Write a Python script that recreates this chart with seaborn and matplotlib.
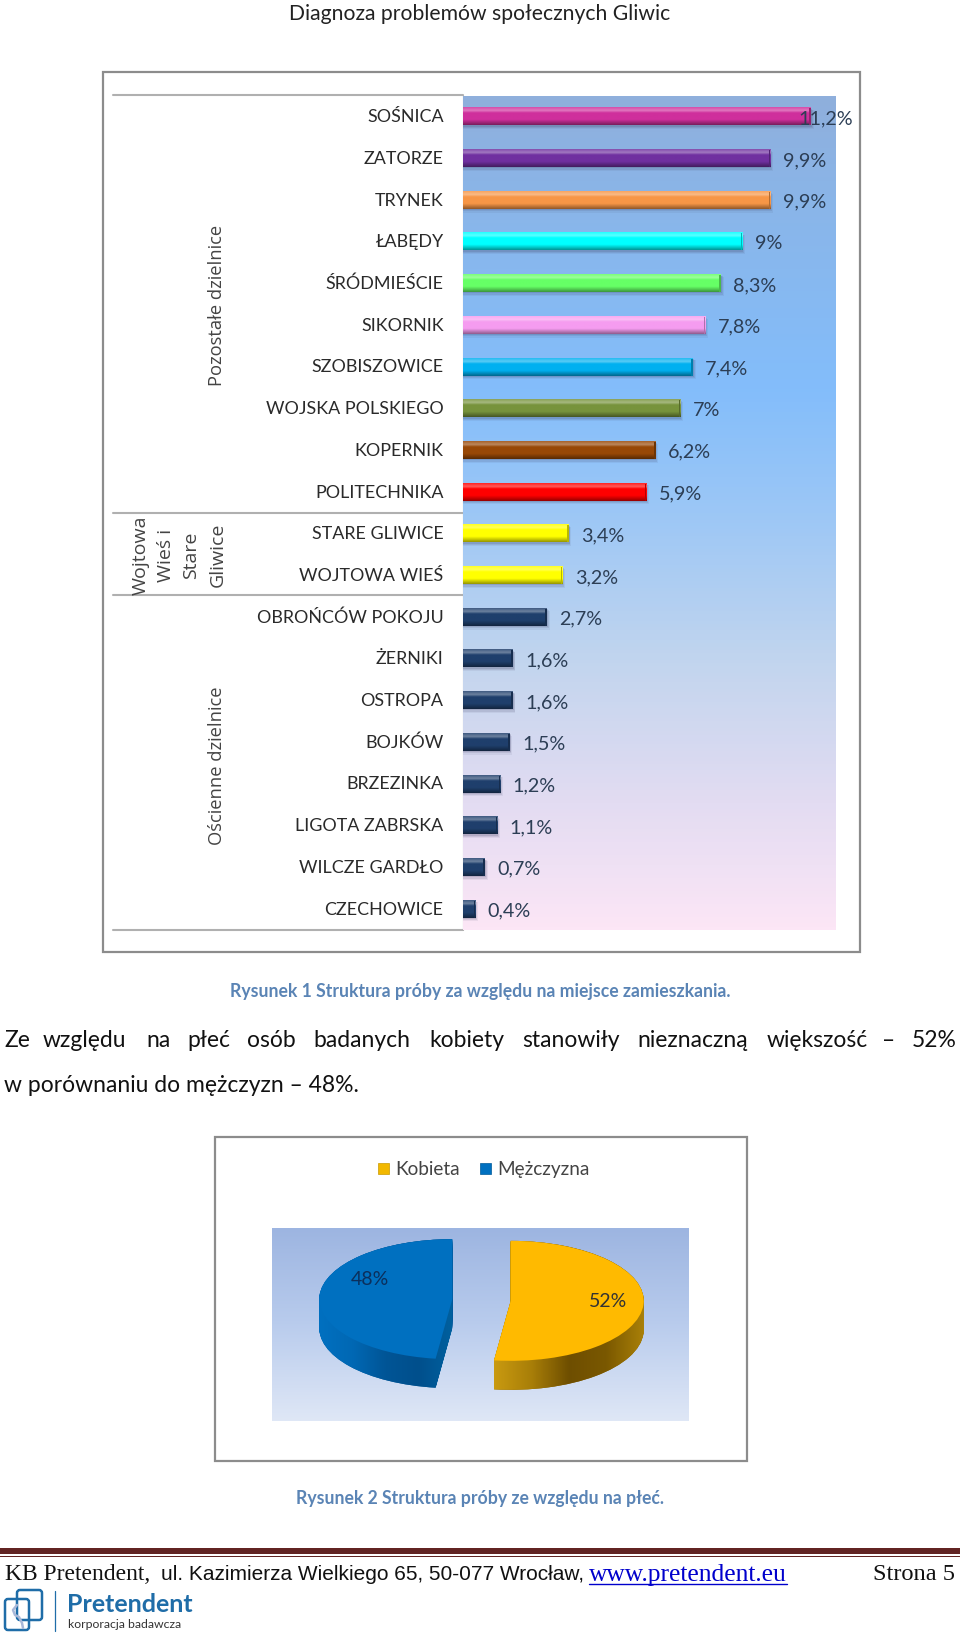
import numpy as np
import pandas as pd
import matplotlib
matplotlib.use("Agg")
import matplotlib.pyplot as plt
import seaborn as sns
from matplotlib.colors import LinearSegmentedColormap, to_rgb
from matplotlib.patches import Rectangle, PathPatch, FancyBboxPatch
from matplotlib.path import Path
from matplotlib.transforms import ScaledTranslation

districts = ["SOŚNICA", "ZATORZE", "TRYNEK", "ŁABĘDY", "ŚRÓDMIEŚCIE", "SIKORNIK", "SZOBISZOWICE",
             "WOJSKA POLSKIEGO", "KOPERNIK", "POLITECHNIKA", "STARE GLIWICE", "WOJTOWA WIEŚ",
             "OBROŃCÓW POKOJU", "ŻERNIKI", "OSTROPA", "BOJKÓW", "BRZEZINKA", "LIGOTA ZABRSKA",
             "WILCZE GARDŁO", "CZECHOWICE"]
shares = [11.2, 9.9, 9.9, 9.0, 8.3, 7.8, 7.4, 7.0, 6.2, 5.9, 3.4, 3.2, 2.7, 1.6, 1.6, 1.5, 1.2, 1.1, 0.7, 0.4]
share_labels = ["11,2%", "9,9%", "9,9%", "9%", "8,3%", "7,8%", "7,4%", "7%", "6,2%", "5,9%", "3,4%", "3,2%",
                "2,7%", "1,6%", "1,6%", "1,5%", "1,2%", "1,1%", "0,7%", "0,4%"]
bar_colors = ["#cf2f9c", "#7030a0", "#f79646", "#00ffff", "#66ff66", "#f59cf0", "#00b0f0", "#77933c",
              "#984807", "#ff0000", "#ffff00", "#ffff00", "#1f3f6c", "#1f3f6c", "#1f3f6c", "#1f3f6c",
              "#1f3f6c", "#1f3f6c", "#1f3f6c", "#1f3f6c"]
sexes = ["Kobieta", "Mężczyzna"]
sex_shares = [52, 48]
sex_colors = ["#ffba00", "#0070c0"]

W, H = 960, 1640
LATO = ["Lato", "DejaVu Sans"]
SERIF = ["Liberation Serif", "DejaVu Serif"]
OPEN = ["Open Sans", "DejaVu Sans"]

sns.set_theme(style="white")
plt.rcParams["font.family"] = LATO
fig = plt.figure(figsize=(W / 100, H / 100), dpi=100, facecolor="white")


def px_axes(x0, y0, x1, y1, **kw):
    return fig.add_axes([x0 / W, 1 - y1 / H, (x1 - x0) / W, (y1 - y0) / H], **kw)


page = px_axes(0, 0, W, H)
page.set_xlim(0, W)
page.set_ylim(H, 0)
page.axis("off")

# ---- page text
CAPTION = "#5a84b5"
page.text(480, 14, "Diagnoza problemów społecznych Gliwic", ha="center", va="center", fontsize=15.25, color="#222222")
page.text(480, 992, "Rysunek 1 Struktura próby za względu na miejsce zamieszkania.", ha="center", va="center",
          fontsize=12.7, fontweight="bold", color=CAPTION)
page.text(480, 1499, "Rysunek 2 Struktura próby ze względu na płeć.", ha="center", va="center",
          fontsize=12.7, fontweight="bold", color=CAPTION)
line1 = ["Ze", "względu", "na", "płeć", "osób", "badanych", "kobiety", "stanowiły", "nieznaczną", "większość", "–", "52%"]
line1_x = [4, 43, 146, 187, 247, 313, 429, 522, 637, 767, 882, 912]
for w, x in zip(line1, line1_x):
    page.text(x, 1041, w, ha="left", va="center", fontsize=16.5, color="#111111")
page.text(4, 1086, "w porównaniu do mężczyzn – 48%.", ha="left", va="center", fontsize=16.5, color="#111111")

# ---- footer
page.add_patch(Rectangle((0, 1549), W, 6, color="#622423", lw=0))
page.add_patch(Rectangle((0, 1556.5), W, 1.5, color="#622423", lw=0))
page.text(5, 1575, "KB Pretendent,", ha="left", va="center", fontsize=17, family=SERIF, color="#111111")
page.text(161, 1575, "ul. Kazimierza Wielkiego 65, 50-077 Wrocław,", ha="left", va="center", fontsize=15.0,
          family=["Liberation Sans"], color="#111111")
page.text(589, 1575, "www.pretendent.eu", ha="left", va="center", fontsize=18.4, family=SERIF, color="#0000cc")
page.plot([589, 787], [1585, 1585], color="#0000cc", lw=1)
page.text(955, 1575, "Strona 5", ha="right", va="center", fontsize=17.6, family=SERIF, color="#111111")

# logo
logo_blue = "#1f6da8"
page.add_patch(FancyBboxPatch((17, 1591), 25, 30, boxstyle="round,pad=0,rounding_size=3", fc="none", ec=logo_blue, lw=1.8))
page.add_patch(FancyBboxPatch((5, 1600), 24, 31, boxstyle="round,pad=0,rounding_size=3", fc="none", ec=logo_blue, lw=1.8))
page.plot([17, 13, 15, 19, 22, 23], [1606, 1611, 1616, 1618, 1624, 1629], color="#a9b8d8", lw=1.8)
page.plot([55, 55], [1592, 1632], color=logo_blue, lw=0.9)
page.text(67, 1605, "Pretendent", ha="left", va="center", fontsize=18, fontweight="bold", color=logo_blue)
page.text(68, 1625, "korporacja badawcza", ha="left", va="center", fontsize=8.8, color="#333333")

# ---- chart 1
page.add_patch(Rectangle((102.5, 73), 757, 880, fc="white", ec="#8c8c8c", lw=1.6))
for y in [96, 513.5, 596, 931]:
    page.plot([113, 463], [y, y], color="#b0b0b0", lw=1.5)
page.plot([463, 463], [96, 931], color="#b0b0b0", lw=0.8)
page.text(217.5, 305, "Pozostałe dzielnice", rotation=90, ha="center", va="center", fontsize=13.2,
          family=OPEN, color="#444444")
page.text(217.5, 766, "Ościenne dzielnice", rotation=90, ha="center", va="center", fontsize=13.2,
          family=OPEN, color="#444444")
for x, t in zip([141, 166, 191, 217.5], ["Wojtowa", "Wieś i", "Stare", "Gliwice"]):
    page.text(x, 555, t, rotation=90, ha="center", va="center", fontsize=14, family=OPEN, color="#444444")

ax = px_axes(463, 97, 836, 931)
ax.patch.set_alpha(0)
df = pd.DataFrame({"district": districts, "share": shares})
sns.barplot(data=df, x="share", y="district", hue="district", palette=bar_colors, legend=False,
            width=0.41, saturation=1, ax=ax, orient="h", zorder=3, linewidth=0, edgecolor="none")
XMAX = 373 / 31.05
ax.set_xlim(0, XMAX)
ax.set_ylim(len(districts) - 0.5, -0.5)
ax.set_xlabel("")
ax.set_ylabel("")
ax.set_xticks([])
ax.tick_params(axis="y", length=0, pad=14, labelsize=12.9, labelcolor="#2a2a2a")
up = ScaledTranslation(0, 1.5 / 72, fig.dpi_scale_trans)
for t in ax.get_yticklabels():
    t.set_transform(t.get_transform() + up)
for s in ax.spines.values():
    s.set_visible(False)

bg = LinearSegmentedColormap.from_list("bg", [(0, "#8fafdc"), (0.12, "#8ab5e8"), (0.35, "#83bdfb"), (0.5, "#9cc7f6"),
                                              (0.68, "#c2d5ee"), (0.85, "#e3dcf2"), (1, "#fce6f6")])
ax.imshow(np.linspace(0, 1, 256)[:, None], cmap=bg, aspect="auto",
          extent=(0, XMAX, len(districts) - 0.5, -0.5), origin="upper", zorder=0)


def shade(col, f):
    c = np.array(to_rgb(col))
    return tuple(c * f) if f <= 1 else tuple(c + (1 - c) * (f - 1))


for bar, col, lab in zip(ax.patches, bar_colors, share_labels):
    x1 = bar.get_width()
    y0, h = bar.get_y(), bar.get_height()
    ramp = LinearSegmentedColormap.from_list("r", [(0, shade(col, 1.15)), (0.18, shade(col, 1.35)), (0.32, col), (0.7, col),
                                                   (0.85, shade(col, 0.8)), (1, shade(col, 0.6))])
    ax.imshow(np.linspace(0, 1, 32)[:, None], cmap=ramp, aspect="auto", extent=(0, x1, y0 + h, y0), zorder=4)
    # soft drop shadow
    for grow, al in zip([0.09, 0.06, 0.03], [0.08, 0.12, 0.16]):
        ax.add_patch(Rectangle((0, y0 + grow / 2), x1 + grow, h + grow / 2, fc="#444466", alpha=al, lw=0, zorder=2))
    # right bevel
    ax.add_patch(Rectangle((x1 - 0.05, y0), 0.05, h, fc=shade(col, 0.72), lw=0, zorder=5))
    # label sits beyond the bar end, except the longest bar where it overlaps
    lx = x1 - 0.4 if lab == "11,2%" else x1 + 0.4
    ax.text(lx, y0 + h / 2 + 0.02, lab, ha="left", va="center", fontsize=14.2, color="#2c3e55", zorder=6)
ax.set_xlim(0, XMAX)
ax.set_ylim(len(districts) - 0.5, -0.5)

# ---- chart 2
page.add_patch(Rectangle((214.5, 1138), 532, 324, fc="white", ec="#8c8c8c", lw=1.6))
page.add_patch(Rectangle((378, 1164), 11, 11, fc="#f2b800", ec="#c99a00", lw=0.5))
page.text(395, 1170, sexes[0], ha="left", va="center", fontsize=13.7, color="#444444")
page.add_patch(Rectangle((480, 1164), 11, 11, fc="#0070c0", ec="#005a9a", lw=0.5))
page.text(497, 1170, sexes[1], ha="left", va="center", fontsize=13.7, color="#444444")

pie_x0, pie_x1, pie_y0, pie_y1 = 272, 689, 1229, 1422
pax = px_axes(pie_x0, pie_y0, pie_x1, pie_y1)
RX, RY = 133.0, 60.0
CX, CY = 481.5, 1301.0
xl = ((pie_x0 - CX) / RX, (pie_x1 - CX) / RX)
yl = ((CY - pie_y1) / RY, (CY - pie_y0) / RY)
pie_bg = LinearSegmentedColormap.from_list("pb", ["#9db5e1", "#b9cced", "#dfe7f6"])
pax.imshow(np.linspace(0, 1, 128)[:, None], cmap=pie_bg, aspect="auto", extent=(xl[0], xl[1], yl[0], yl[1]),
           origin="upper", zorder=0)
explode = (0.22, 0.22)
depth = 29 / RY

sides = {0: [], 1: []}
for d in np.linspace(depth, 0, 31):
    wedges, _ = pax.pie(sex_shares, colors=["#8a6300", "#00589c"], startangle=90, counterclock=False, explode=explode,
                        center=(0, -d), radius=1, wedgeprops=dict(lw=0, zorder=2))
    for i, w in enumerate(wedges):
        sides[i].append(w.get_patch_transform().transform_path(w.get_path()))
side_maps = [LinearSegmentedColormap.from_list("sy", ["#c99a10", "#a87e08", "#6e4e00", "#7a5800", "#a98008"]),
             LinearSegmentedColormap.from_list("sb", ["#0070c0", "#0068b4", "#005596", "#004f8c", "#00609e"])]
pax.pie(sex_shares, colors=sex_colors, startangle=90, counterclock=False, explode=explode,
        center=(0, 0), radius=1, wedgeprops=dict(lw=0, zorder=4))
for i in range(2):
    comp = Path.make_compound_path(*sides[i])
    clip = PathPatch(comp, transform=pax.transData, fc="none", lw=0)
    pax.add_patch(clip)
    bb = comp.get_extents()
    im = pax.imshow(np.linspace(0, 1, 128)[None, :], cmap=side_maps[i], aspect="auto",
                    extent=(bb.x0, bb.x1, bb.y0, bb.y1), zorder=3)
    im.set_clip_path(clip)
pax.set_aspect("auto")
pax.set_xlim(*xl)
pax.set_ylim(*yl)
pax.axis("on")
pax.set_xticks([])
pax.set_yticks([])
for s in pax.spines.values():
    s.set_visible(False)
for val, xp, yp, tc in zip(sex_shares, [608, 370], [1302, 1280], ["#333333", "#0b2f5c"]):
    pax.text((xp - CX) / RX, (CY - yp) / RY, f"{val}%", ha="center", va="center", fontsize=14, color=tc, zorder=10)

fig.savefig("out.png", dpi=100)
